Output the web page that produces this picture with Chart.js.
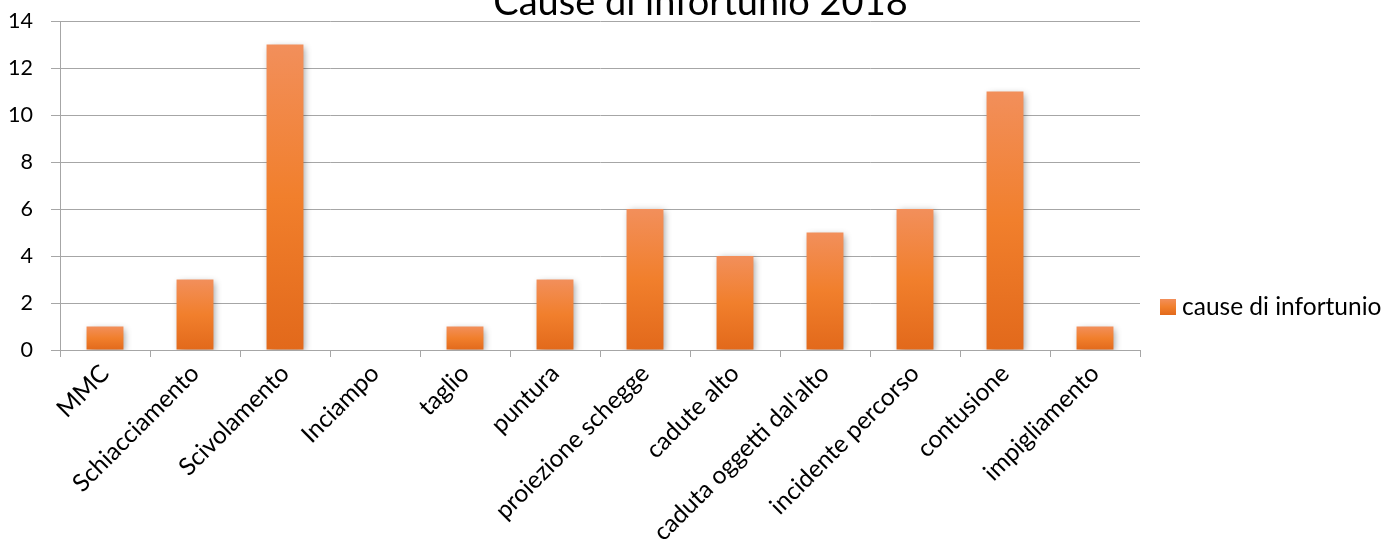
<!DOCTYPE html>
<html>
<head>
<meta charset="utf-8">
<script src="https://cdn.jsdelivr.net/npm/chart.js@4"></script>
<style>
  html, body { margin: 0; padding: 0; background: #ffffff; }
  #wrap { width: 1397px; height: 552px; position: relative; }
</style>
</head>
<body>
<div id="wrap"><canvas id="c" width="1397" height="552"></canvas></div>
<script>
// Injury causes, 2018
const categories = [
  'MMC', 'Schiacciamento', 'Scivolamento', 'Inciampo', 'taglio', 'puntura',
  'proiezione schegge', 'cadute alto', "caduta oggetti dal'alto",
  'incidente percorso', 'contusione', 'impigliamento'
];
const counts = [1, 3, 13, 0, 1, 3, 6, 4, 5, 6, 11, 1];
const seriesName = 'cause di infortunio';
const chartTitle = 'Cause di infortunio 2018';
const yTicks = [0, 2, 4, 6, 8, 10, 12, 14];

const FONT = 'Lato, "Open Sans", sans-serif';
const GRID = '#a6a6a6';

function orangeGradient(ctx, top, bottom) {
  const g = ctx.createLinearGradient(0, top, 0, bottom);
  g.addColorStop(0, '#f28f5b');
  g.addColorStop(0.5, '#f17f2c');
  g.addColorStop(1, '#e2691b');
  return g;
}

// Title sits above the plot, partly running off the top edge
const titlePlugin = {
  id: 'topTitle',
  afterDraw(chart) {
    const ctx = chart.ctx;
    ctx.save();
    ctx.font = '38px ' + FONT;
    ctx.fillStyle = '#000000';
    ctx.textAlign = 'center';
    ctx.textBaseline = 'alphabetic';
    ctx.fillText(chartTitle, chart.width / 2 + 2, 15);
    ctx.restore();
  }
};

// Soft drop shadow behind the bars
const shadowPlugin = {
  id: 'barShadow',
  beforeDatasetsDraw(chart) {
    const ctx = chart.ctx;
    ctx.save();
    ctx.shadowColor = 'rgba(0,0,0,0.38)';
    ctx.shadowBlur = 7;
    ctx.shadowOffsetX = 2;
    ctx.shadowOffsetY = 2;
  },
  afterDatasetsDraw(chart) {
    chart.ctx.restore();
  }
};

// Legend entry on the right of the plot
const legendPlugin = {
  id: 'sideLegend',
  afterDraw(chart) {
    const ctx = chart.ctx;
    const area = chart.chartArea;
    const x = area.right + 20;
    const y = 299;
    ctx.save();
    ctx.fillStyle = orangeGradient(ctx, y, y + 16);
    ctx.fillRect(x, y, 16, 16);
    ctx.font = '24.5px ' + FONT;
    ctx.fillStyle = '#000000';
    ctx.textAlign = 'left';
    ctx.textBaseline = 'middle';
    ctx.fillText(chart.data.datasets[0].label, x + 22, y + 8);
    ctx.restore();
  }
};

new Chart(document.getElementById('c'), {
  type: 'bar',
  data: {
    labels: categories,
    datasets: [{
      label: seriesName,
      data: counts,
      backgroundColor: (c) => {
        const chart = c.chart;
        if (c.type !== 'data' || !chart.chartArea) return '#f17f2c';
        const ys = chart.scales.y;
        return orangeGradient(chart.ctx, ys.getPixelForValue(c.raw), ys.getPixelForValue(0));
      },
      borderWidth: 0,
      barPercentage: 0.82,
      categoryPercentage: 0.5
    }]
  },
  plugins: [shadowPlugin, titlePlugin, legendPlugin],
  options: {
    responsive: false,
    devicePixelRatio: 1,
    animation: false,
    layout: { padding: { top: 21, right: 257, left: 0, bottom: 0 } },
    plugins: {
      legend: { display: false },
      title: { display: false },
      tooltip: { enabled: false }
    },
    scales: {
      x: {
        grid: {
          offset: true,
          drawOnChartArea: false,
          drawTicks: true,
          tickLength: 7,
          color: GRID,
          lineWidth: 1
        },
        border: { color: GRID, width: 1 },
        ticks: {
          font: { family: FONT, size: 24.5 },
          color: '#000000',
          minRotation: 45,
          maxRotation: 45,
          autoSkip: false,
          padding: 2
        },
        afterFit(scale) { scale.height = 202; }
      },
      y: {
        min: 0,
        max: 14,
        afterBuildTicks(scale) { scale.ticks = yTicks.map(v => ({ value: v })); },
        grid: {
          color: GRID,
          lineWidth: 1,
          drawTicks: true,
          tickLength: 9
        },
        border: { color: GRID, width: 1 },
        ticks: {
          font: { family: FONT, size: 21.5 },
          color: '#000000',
          padding: 18
        },
        afterFit(scale) {
          scale.width = 60;
          scale.paddingTop = 0;
          scale.paddingBottom = 0;
        }
      }
    }
  }
});
</script>
</body>
</html>
